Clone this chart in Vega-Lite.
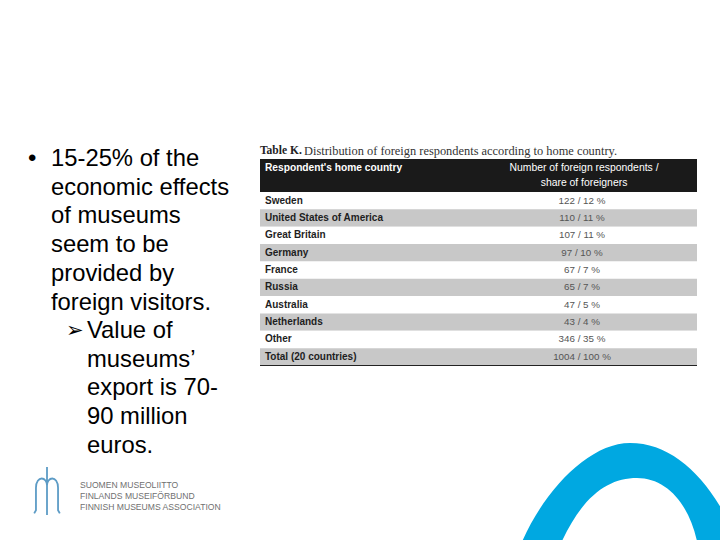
{
  "$schema": "https://vega.github.io/schema/vega-lite/v6.json",
  "width": 720,
  "height": 540,
  "padding": 0,
  "autosize": {"type": "fit", "contains": "padding"},
  "background": "white",
  "config": {"view": {"stroke": null}},
  "data": {
    "values": [
      {"country": "Sweden", "respondents": 122, "share": 12},
      {"country": "United States of America", "respondents": 110, "share": 11},
      {"country": "Great Britain", "respondents": 107, "share": 11},
      {"country": "Germany", "respondents": 97, "share": 10},
      {"country": "France", "respondents": 67, "share": 7},
      {"country": "Russia", "respondents": 65, "share": 7},
      {"country": "Australia", "respondents": 47, "share": 5},
      {"country": "Netherlands", "respondents": 43, "share": 4},
      {"country": "Other", "respondents": 346, "share": 35},
      {"country": "Total (20 countries)", "respondents": 1004, "share": 100}
    ]
  },
  "layer": [
    {
      "data": {"values": [{}]},
      "mark": {"type": "point", "shape": "M -1.15 0.2 C -0.95 -0.4 -0.45 -0.97 0 -0.97 C 0.5 -0.97 0.9 -0.5 1.15 0.2 L 0.7 0.2 C 0.65 -0.3 0.4 -0.62 0.07 -0.62 C -0.25 -0.62 -0.53 -0.4 -0.76 0.2 Z", "size": 40000, "filled": true, "opacity": 1, "strokeWidth": 0, "color": "#00a8e1"},
      "encoding": {"x": {"value": 630}, "y": {"value": 540}}
    },
    {
      "data": {"values": [{}]},
      "mark": {"type": "text", "text": "•", "align": "left", "baseline": "alphabetic", "font": "Liberation Sans", "fontSize": 24, "color": "#000000"},
      "encoding": {"x": {"value": 28}, "y": {"value": 166}}
    },
    {
      "data": {"values": [{}]},
      "mark": {"type": "text", "text": ["15-25% of the", "economic effects", "of museums", "seem to be", "provided by", "foreign visitors."], "align": "left", "baseline": "alphabetic", "font": "Liberation Sans", "fontSize": 23.8, "lineHeight": 28.7, "color": "#000000"},
      "encoding": {"x": {"value": 51}, "y": {"value": 166}}
    },
    {
      "data": {"values": [{}]},
      "mark": {"type": "text", "text": "➢", "align": "left", "baseline": "alphabetic", "font": "DejaVu Sans", "fontSize": 21, "color": "#000000"},
      "encoding": {"x": {"value": 66}, "y": {"value": 337}}
    },
    {
      "data": {"values": [{}]},
      "mark": {"type": "text", "text": ["Value of", "museums’", "export is 70-", "90 million", "euros."], "align": "left", "baseline": "alphabetic", "font": "Liberation Sans", "fontSize": 23.8, "lineHeight": 28.7, "color": "#000000"},
      "encoding": {"x": {"value": 87}, "y": {"value": 338}}
    },
    {
      "data": {"values": [{}]},
      "mark": {"type": "text", "text": "Table K.", "align": "left", "baseline": "middle", "font": "Liberation Serif", "fontWeight": "bold", "fontSize": 11.5, "color": "#222222"},
      "encoding": {"x": {"value": 260}, "y": {"value": 150.5}}
    },
    {
      "data": {"values": [{}]},
      "mark": {"type": "text", "text": "Distribution of foreign respondents according to home country.", "align": "left", "baseline": "middle", "font": "Liberation Serif", "fontSize": 12.4, "color": "#333333"},
      "encoding": {"x": {"value": 304}, "y": {"value": 150.5}}
    },
    {
      "data": {"values": [{}]},
      "mark": {"type": "rect", "color": "#1a1a1a"},
      "encoding": {"x": {"value": 260}, "x2": {"value": 697}, "y": {"value": 159}, "y2": {"value": 192}}
    },
    {
      "data": {"values": [{}]},
      "mark": {"type": "text", "text": "Respondent's home country", "align": "left", "baseline": "middle", "font": "Liberation Sans", "fontWeight": "bold", "fontSize": 10.2, "color": "#ffffff"},
      "encoding": {"x": {"value": 265}, "y": {"value": 168}}
    },
    {
      "data": {"values": [{}]},
      "mark": {"type": "text", "text": ["Number of foreign respondents /", "share of foreigners"], "align": "center", "baseline": "middle", "font": "Liberation Sans", "fontSize": 10.4, "lineHeight": 15, "color": "#ffffff"},
      "encoding": {"x": {"value": 584}, "y": {"value": 168}}
    },
    {
      "transform": [{"window": [{"op": "row_number", "as": "rowNo"}]}],
      "mark": {"type": "rect"},
      "encoding": {
        "x": {"value": 260},
        "x2": {"value": 697},
        "y": {"field": "country", "type": "nominal", "sort": null, "scale": {"range": [192, 365.5], "paddingInner": 0, "paddingOuter": 0}, "axis": null},
        "fill": {"condition": {"test": "datum.rowNo % 2 == 0", "value": "#c8c8c8"}, "value": "#ffffff"}
      }
    },
    {
      "mark": {"type": "text", "align": "left", "baseline": "middle", "font": "Liberation Sans", "fontWeight": "bold", "fontSize": 10, "color": "#1e1e1e"},
      "encoding": {
        "x": {"value": 265},
        "y": {"field": "country", "type": "nominal", "sort": null, "axis": null},
        "text": {"field": "country"}
      }
    },
    {
      "transform": [{"calculate": "datum.respondents + ' / ' + datum.share + ' %'", "as": "label"}],
      "mark": {"type": "text", "align": "center", "baseline": "middle", "font": "Liberation Sans", "fontSize": 9.8, "color": "#555555"},
      "encoding": {
        "x": {"value": 582},
        "y": {"field": "country", "type": "nominal", "sort": null, "axis": null},
        "text": {"field": "label"}
      }
    },
    {
      "data": {"values": [{}]},
      "mark": {"type": "rule", "color": "#222222", "strokeWidth": 1},
      "encoding": {"x": {"value": 260}, "x2": {"value": 697}, "y": {"value": 365.5}}
    },
    {
      "data": {"values": [{}]},
      "mark": {"type": "point", "shape": "M -0.8 1.4 L -0.69 1.2 L -0.69 -0.2 C -0.69 -0.6 -0.5 -0.78 -0.33 -0.78 C -0.15 -0.78 0 -0.6 0 -0.35 C 0 -0.6 0.15 -0.78 0.33 -0.78 C 0.5 -0.78 0.69 -0.6 0.69 -0.2 L 0.69 1.2 L 0.8 1.4 M 0 -1.5 L 0 1.5", "size": 1024, "filled": false, "opacity": 1, "strokeWidth": 1.8, "color": "#5d9cc6"},
      "encoding": {"x": {"value": 47}, "y": {"value": 491}}
    },
    {
      "data": {"values": [{}]},
      "mark": {"type": "text", "text": ["SUOMEN MUSEOLIITTO", "FINLANDS MUSEIFÖRBUND", "FINNISH MUSEUMS ASSOCIATION"], "align": "left", "baseline": "middle", "font": "Liberation Sans", "fontSize": 8.6, "lineHeight": 11, "color": "#707070"},
      "encoding": {"x": {"value": 80}, "y": {"value": 485}}
    }
  ]
}
